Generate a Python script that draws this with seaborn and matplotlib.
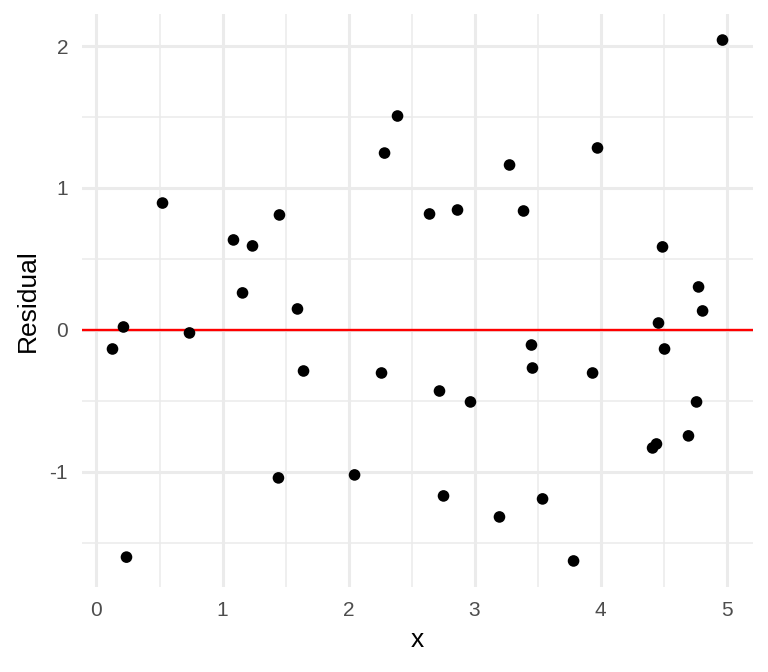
import numpy as np
import pandas as pd
import matplotlib
matplotlib.use("Agg")
import matplotlib.pyplot as plt
import seaborn as sns

# residuals
x_vals = [0.127, 0.214, 0.238, 0.524, 0.738, 1.087, 1.159, 1.238, 1.452, 1.444,
          1.595, 1.643, 2.048, 2.262, 2.286, 2.389, 2.643, 2.722, 2.754, 2.865,
          2.968, 3.198, 3.278, 3.389, 3.452, 3.460, 3.540, 3.786, 3.937, 3.976,
          4.413, 4.444, 4.460, 4.492, 4.508, 4.698, 4.762, 4.778, 4.810, 4.968]
residuals = [-0.134, 0.021, -1.600, 0.894, -0.021, 0.634, 0.261, 0.592, 0.810, -1.042,
             0.148, -0.289, -1.021, -0.303, 1.246, 1.507, 0.817, -0.430, -1.169, 0.845,
             -0.507, -1.317, 1.162, 0.838, -0.106, -0.268, -1.190, -1.627, -0.303, 1.282,
             -0.831, -0.803, 0.049, 0.585, -0.134, -0.746, -0.507, 0.303, 0.134, 2.042]
x_ticks = [0, 1, 2, 3, 4, 5]
y_ticks = [-1, 0, 1, 2]

df = pd.DataFrame({"x": x_vals, "Residual": residuals})

sns.set_style("white")
plt.rcParams['font.family'] = ['Liberation Sans', 'DejaVu Sans']
plt.rcParams['axes.unicode_minus'] = False

fig = plt.figure(figsize=(7.68, 6.72), dpi=100)
ax = fig.add_axes([82 / 768, 85 / 672, 671 / 768, 573 / 672])

# ggplot-like grid
for v in np.arange(-0.5, 5.6, 1.0):
    ax.axvline(v, color="#EBEBEB", lw=1.1, zorder=0)
for v in [-1.5, -0.5, 0.5, 1.5]:
    ax.axhline(v, color="#EBEBEB", lw=1.1, zorder=0)
for v in x_ticks:
    ax.axvline(v, color="#EBEBEB", lw=2.2, zorder=0)
for v in y_ticks:
    ax.axhline(v, color="#EBEBEB", lw=2.2, zorder=0)

sns.scatterplot(data=df, x="x", y="Residual", color="black", s=70,
                edgecolor="none", ax=ax, zorder=3)
ax.axhline(0, color="red", lw=1.7, zorder=2)

xr = max(x_vals) - min(x_vals)
yr = max(residuals) - min(residuals)
ax.set_xlim(min(x_vals) - 0.05 * xr, max(x_vals) + 0.05 * xr)
ax.set_ylim(min(residuals) - 0.05 * yr, max(residuals) + 0.05 * yr)

ax.set_xticks(x_ticks)
ax.set_yticks(y_ticks)
ax.tick_params(length=0, labelsize=15, labelcolor="#4D4D4D", pad=10)
ax.set_xlabel("x", fontsize=19, color="black", labelpad=6)
ax.set_ylabel("Residual", fontsize=19, color="black", labelpad=7)
for s in ax.spines.values():
    s.set_visible(False)

fig.savefig("out.png", dpi=100)
